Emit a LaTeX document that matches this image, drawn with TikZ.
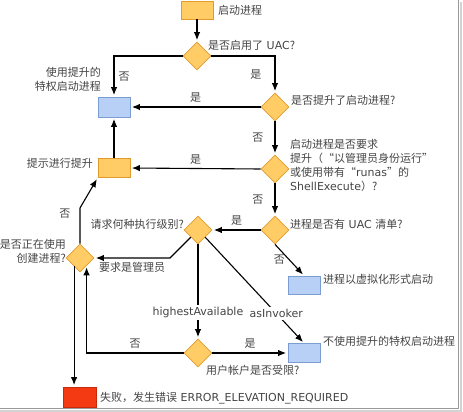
\documentclass[tikz,border=0pt]{standalone}
\usepackage{fontspec}
\setmainfont{DejaVu Sans}
\newfontfamily\cjk{Noto Sans CJK SC}
\usepackage{tikz}
\usetikzlibrary{shapes.geometric,arrows.meta,positioning}
\definecolor{boxorange}{HTML}{FFCC66}
\definecolor{lineorange}{HTML}{E39B2E}
\definecolor{boxblue}{HTML}{B8D0F5}
\definecolor{lineblue}{HTML}{7C9DD2}
\definecolor{boxred}{HTML}{F43A12}
\definecolor{linered}{HTML}{C82A08}
\definecolor{txtgrey}{HTML}{444444}
\newcommand{\zh}[1]{{\cjk #1}}

\begin{document}
\begin{tikzpicture}[x=1pt,y=-1pt,>={Latex[length=8pt,width=6.5pt]},
    decision/.style={diamond, draw=lineorange, fill=boxorange, line width=0.8pt, minimum size=28pt, inner sep=0pt, aspect=1},
    procbox/.style={rectangle, line width=0.8pt, minimum width=32pt, minimum height=19pt, inner sep=0pt},
    orangebox/.style={procbox, draw=lineorange, fill=boxorange},
    bluebox/.style={procbox, draw=lineblue, fill=boxblue},
    redbox/.style={procbox, draw=linered, fill=boxred, minimum width=33pt, minimum height=20pt},
    txt/.style={inner sep=0pt, text=txtgrey, font=\fontsize{11}{14}\selectfont},
    conn/.style={draw=black, line width=1.1pt, shorten >=1.5pt},
    onlbl/.style={txt, inner sep=4pt}]
    \useasboundingbox (0,0) rectangle (463,412);
    % frame shadow
    \draw[gray!35, line width=2pt] (461,2) -- (461,411) -- (0,411);
    \draw[gray!80, line width=1pt] (458.5,0) -- (458.5,408.5) -- (0,408.5);

    % boxes and decisions
    \node[orangebox, minimum height=18pt] at (197,10) (start) {};
    \node[decision] at (197,56) (uac) {};
    \node[bluebox, minimum height=20pt] at (114,107) (useelev) {};
    \node[decision] at (275,107) (elev) {};
    \node[decision] at (275,169) (req) {};
    \node[orangebox] at (114,168) (prompt) {};
    \node[decision] at (275,230) (manifest) {};
    \node[decision] at (198,230) (level) {};
    \node[decision] at (80,258) (creating) {};
    \node[bluebox, minimum height=18pt] at (304,285) (virt) {};
    \node[decision] at (198,353) (strict) {};
    \node[bluebox] at (304,353) (noelev) {};
    \node[redbox] at (80,397) (fail) {};
    \coordinate (adminbend) at (170,258);
    \coordinate (nobend) at (80,208);

    % texts
    \node[txt, anchor=west] at (218,10) (startlbl) {\zh{启动进程}};
    \node[txt, anchor=west] at (208,45) (uaclbl) {\zh{是否启用了} UAC\zh{?}};
    \node[txt, anchor=east, align=right] at (101,79) (useelevlbl) {\zh{使用提升的}\\\zh{特权启动进程}};
    \node[txt, anchor=west] at (291,100) (elevlbl) {\zh{是否提升了启动进程?}};
    \node[txt, anchor=west, align=left] at (290,165) (reqlbl) {\zh{启动进程是否要求}\\\zh{提升（“以管理员身份运行”}\\\zh{或使用带有“}runas\zh{”的}\\ShellExecute\zh{）?}};
    \node[txt, anchor=east] at (93,163) (promptlbl) {\zh{提示进行提升}};
    \node[txt, anchor=west] at (290,224) (manifestlbl) {\zh{进程是否有} UAC \zh{清单?}};
    \node[txt, anchor=east] at (184,224) (levellbl) {\zh{请求何种执行级别?}};
    \node[txt, anchor=east, align=right] at (66,251) (creatinglbl) {\zh{是否正在使用}\\\zh{创建进程?}};
    \node[txt, anchor=west] at (323,279) (virtlbl) {\zh{进程以虚拟化形式启动}};
    \node[txt, anchor=west] at (323,341) (noelevlbl) {\zh{不使用提升的特权启动进程}};
    \node[txt, anchor=west] at (206,370) (strictlbl) {\zh{用户帐户是否受限?}};
    \node[txt, anchor=west] at (100,398) (faillbl) {\zh{失败，发生错误} ERROR\_ELEVATION\_REQUIRED};

    % connectors
    \draw[conn,->] (start) -- (uac);
    \draw[conn,->] (uac.west) -| (useelev.north) node[onlbl, pos=0.75, right] {\zh{否}};
    \draw[conn,->] (uac.east) -| (elev.north) node[onlbl, pos=0.75, left=9pt] {\zh{是}};
    \draw[conn,->] (elev.west) -- (useelev.east) node[onlbl, midway, above] {\zh{是}};
    \draw[conn,->] (elev.south) -- (req.north) node[onlbl, midway, left=7pt] {\zh{否}};
    \draw[conn,->] (req.west) -- (prompt.east) node[onlbl, midway, above] {\zh{是}};
    \draw[conn,->] (prompt.north) -- (useelev.south);
    \draw[conn,->] (req.south) -- (manifest.north) node[onlbl, midway, left=7pt] {\zh{否}};
    \draw[conn,->] (manifest.west) -- (level.east) node[onlbl, midway, above] {\zh{是}};
    \draw[conn,->] (manifest.south) -- (virt.north) node[onlbl, midway, left] {\zh{否}};
    \draw[conn,->] (level.south west) -- (adminbend) -- (creating.east) node[onlbl, midway, below] {\zh{要求是管理员}};
    \draw[conn,->] (creating.north) -- (nobend) node[onlbl, pos=0.85, left=5pt] {\zh{否}} -- (prompt.south west);
    \draw[conn,->] (creating.-125) -- (creating.-125 |- fail.north);
    \draw[conn,->] (level.south) -- (strict.north) node[txt, pos=0.72, fill=white, inner sep=2pt] {highestAvailable};
    \draw[conn,->] (level.south east) -- (noelev.north) node[txt, pos=0.72, fill=white, inner sep=2pt] {asInvoker};
    \draw[conn,->] (strict.east) -- (noelev.west) node[onlbl, midway, above] {\zh{是}};
    \draw[conn,->] (strict.west) -| (creating.-50) node[onlbl, pos=0.25, above] {\zh{否}};
\end{tikzpicture}
\end{document}
